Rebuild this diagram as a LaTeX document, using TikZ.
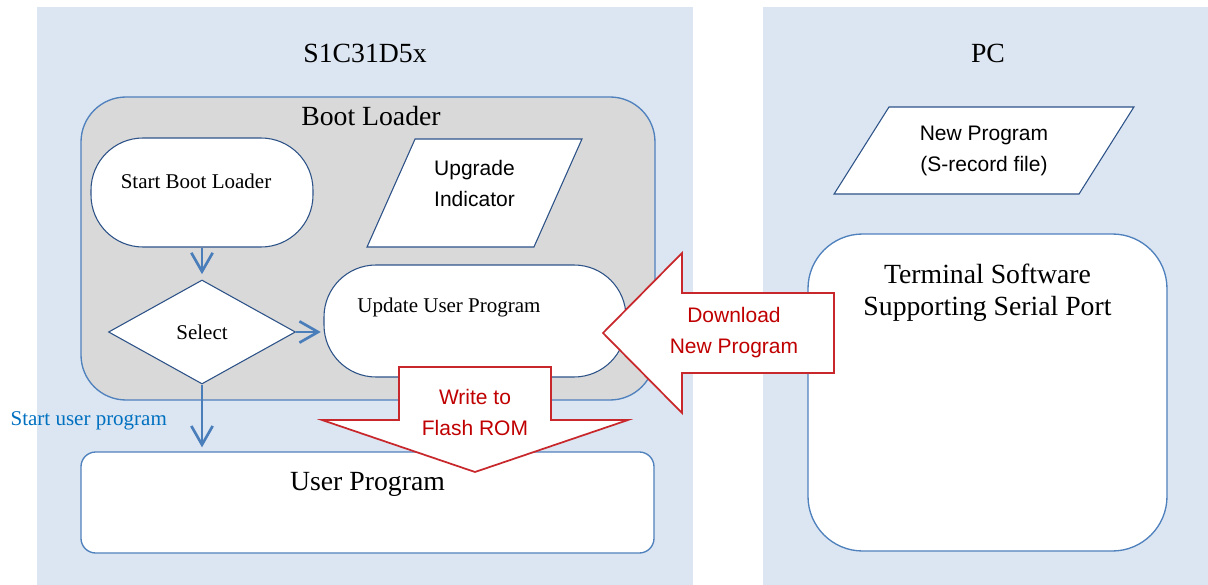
\documentclass[tikz,border=0pt]{standalone}
\usepackage{fontspec}
\setmainfont{Liberation Serif}
\setsansfont{Liberation Sans}
\usetikzlibrary{arrows.meta,positioning,fit,calc,shapes.geometric}
\definecolor{panelblue}{HTML}{DCE6F2}
\definecolor{bootgray}{HTML}{D9D9D9}
\definecolor{edgeblue}{HTML}{4F81BD}
\definecolor{navy}{HTML}{2C5288}
\definecolor{flowblue}{HTML}{4A7EBB}
\definecolor{dlred}{HTML}{C00000}
\definecolor{arrowred}{HTML}{C8282C}
\definecolor{linkblue}{HTML}{0070C0}
\tikzset{
  big/.style={font=\fontsize{20.8}{24}\selectfont},
  small/.style={font=\fontsize{15.75}{23.25}\selectfont},
  sans/.style={font=\sffamily\fontsize{15.75}{23.25}\selectfont, align=center},
  panel/.style={fill=panelblue, inner sep=0pt},
  group/.style={
    draw=edgeblue,
    fill=bootgray,
    line width=1pt,
    rounded corners=33.75pt,
    inner sep=0pt
  },
  term/.style={
    draw=navy,
    fill=white,
    line width=0.8pt,
    rounded corners=39pt,
    inner sep=0pt
  },
  decision/.style={
    diamond,
    draw=navy,
    fill=white,
    line width=0.8pt,
    inner sep=0pt
  },
  io/.style={
    trapezium,
    trapezium stretches=true,
    draw=navy,
    fill=white,
    line width=0.8pt,
    inner sep=2pt
  },
  box/.style={
    draw=edgeblue,
    fill=white,
    line width=1pt,
    inner sep=0pt
  },
  flow/.style={-{Straight Barb[length=14pt,width=16pt]}, draw=flowblue, line width=2pt},
  bigarrow/.style={draw=arrowred, fill=white, line width=1.3pt, line join=miter}
}
\begin{document}
\begin{tikzpicture}[x=0.75pt, y=-0.75pt]
\useasboundingbox (0,0) rectangle (1208,585);

% --- background panels ---
\node[panel, minimum width=492pt, minimum height=433.5pt] (mcu) at (365,296) {};
\node[panel, minimum width=333.75pt, minimum height=433.5pt] (pc) at (985.5,296) {};
\node[big] (mcutitle) at (365,53) {S1C31D5x};
\node[big] (pctitle) at (988,53) {PC};

% --- boot loader group ---
\node[group, minimum width=430.5pt, minimum height=227.25pt] (boot) at (368,248.5) {};
\node[big] (boottitle) at (371,116) {Boot Loader};

\node[term, minimum width=166.5pt, minimum height=81.75pt,
      label={[small, xshift=-4.5pt, yshift=8.6pt]center:Start Boot Loader}] (start) at (202,192.5) {};
\node[io, trapezium left angle=68, trapezium right angle=112,
      minimum width=161.25pt, minimum height=81pt,
      label={[sans, yshift=7pt]center:Upgrade\\Indicator}] (flag) at (474.5,193) {};
\node[term, minimum width=226.5pt, minimum height=84pt,
      label={[small, xshift=-19.5pt, yshift=10.5pt]center:Update User Program}] (update) at (475,321) {};
\node[decision, minimum width=140.25pt, minimum height=78pt, small] (select) at (202,332) {Select};

\draw[flow, shorten >=4pt] (start) -- (select);
\draw[flow, shorten >=2pt] (select.east) -- (select.east -| update.west);

% --- user program ---
\node[box, rounded corners=11pt, minimum width=429.75pt, minimum height=75.75pt,
      label={[big, yshift=13.9pt]center:User Program}] (user) at (367.5,502.5) {};
\draw[flow, shorten >=3pt] (select.south) --
  node[pos=0.55, left=22pt, small, text=linkblue] (startlbl) {Start user program}
  (select.south |- user.north);

% --- PC side ---
\node[io, trapezium left angle=55, trapezium right angle=125,
      minimum width=225pt, minimum height=65.25pt, sans] (newprog) at (984,150.5) {New Program\\(S-record file)};
\node[box, rounded corners=41pt, minimum width=269.25pt, minimum height=237.75pt,
      label={[big, align=center, yshift=75pt]center:Terminal Software\\Supporting Serial Port}] (termsw) at (987.5,392.5) {};

% --- block arrows ---
\draw[bigarrow] (603,333) -- (682,253) -- (682,293) -- (834,293) -- (834,373) -- (682,373) -- (682,413) -- cycle;
\node[sans, text=dlred] (download) at (734,333) {Download\\New Program};
\draw[bigarrow] (399,367) -- (551,367) -- (551,420) -- (628,420) -- (475,472) -- (322,420) -- (399,420) -- cycle;
\node[sans, text=dlred] (write) at (475,412.5) {Write to\\Flash ROM};

\end{tikzpicture}
\end{document}
